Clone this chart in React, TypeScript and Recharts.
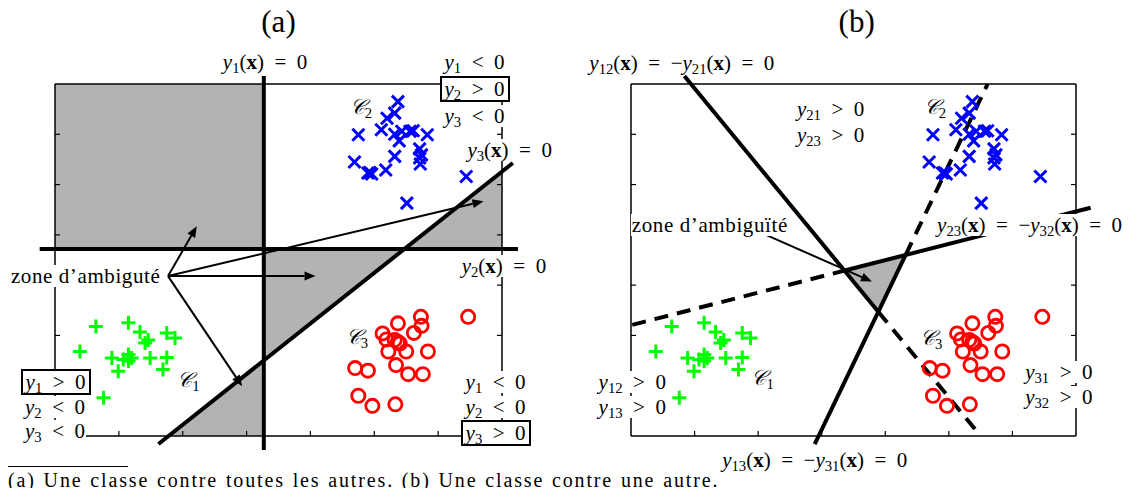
import React from "react";
import {
  ComposedChart, XAxis, YAxis, Scatter, Area, ReferenceArea, ReferenceLine, ReferenceDot,
} from "recharts";

// --- data (axes run 0..7 in both panels) ---
const TICKS = [1, 2, 3, 4, 5, 6];

const BLUE_X = [5.37, 5.32, 5.2, 4.75, 5.11, 5.32, 5.43, 5.39, 5.56, 5.61, 5.83, 5.71, 5.74, 5.71, 5.72, 5.32, 4.69, 4.9, 4.96, 4.93, 5.18, 6.44, 5.51];
const BLUE_Y = [6.65, 6.42, 6.32, 5.99, 6.09, 6.0, 6.06, 5.87, 6.06, 6.07, 5.99, 5.71, 5.59, 5.53, 5.41, 5.56, 5.45, 5.23, 5.21, 5.24, 5.29, 5.16, 4.63];

const GREEN_X = [0.64, 1.15, 1.33, 1.46, 1.41, 1.75, 1.88, 0.39, 0.89, 1.07, 1.15, 1.2, 1.15, 1.49, 1.75, 1.69, 0.99, 0.76];
const GREEN_Y = [2.18, 2.25, 2.07, 1.91, 1.85, 2.05, 1.95, 1.68, 1.55, 1.52, 1.62, 1.55, 1.49, 1.55, 1.56, 1.32, 1.29, 0.76];

const RED_X = [6.47, 5.73, 5.74, 5.37, 5.62, 5.13, 5.19, 5.37, 5.32, 5.22, 5.5, 5.84, 5.34, 4.7, 4.9, 5.53, 5.76, 4.75, 4.97, 5.33, 5.4];
const RED_Y = [2.37, 2.37, 2.19, 2.24, 2.05, 2.04, 1.92, 1.87, 1.91, 1.68, 1.68, 1.68, 1.41, 1.35, 1.3, 1.23, 1.23, 0.8, 0.6, 0.63, 1.84];

// panel (a): one class against all others
const RECT_A = { x1: 0, x2: 3.27, y1: 3.72, y2: 7 };
const AREAS_A = [
  [{ x: 3.27, r: [1.5, 3.72] }, { x: 5.47, r: [3.72, 3.72] }],
  [{ x: 1.78, r: [0, 0] }, { x: 3.27, r: [0, 1.5] }],
  [{ x: 5.47, r: [3.72, 3.72] }, { x: 7, r: [3.72, 5.26] }],
];
const LINES_A = [
  { a: [3.27, -0.28], b: [3.27, 7.16], dash: false },
  { a: [-0.24, 3.72], b: [7.25, 3.72], dash: false },
  { a: [1.62, -0.16], b: [7.17, 5.43], dash: false },
];
const ARROW_FROM_A = [1.77, 3.18];
const ARROW_TO_A = [[2.22, 4.17], [6.71, 4.67], [4.08, 3.18], [2.93, 0.99]];
const LABELS_A = [
  { x: 3.5, y: 8.23, t: "(a)", size: 31, plain: true, nobg: true },
  { x: 3.29, y: 7.44, t: "y1(x) = 0" },
  { x: 6.57, y: 7.44, t: "y1 < 0" },
  { x: 6.57, y: 6.9, t: "y2 > 0", box: true },
  { x: 6.57, y: 6.36, t: "y3 < 0" },
  { x: 7.12, y: 5.69, t: "y3(x) = 0" },
  { x: 7.03, y: 3.38, t: "y2(x) = 0" },
  { x: 4.79, y: 6.54, t: "C2", nobg: true },
  { x: 2.09, y: 1.11, t: "C1", nobg: true },
  { x: 4.73, y: 1.97, t: "C3", nobg: true },
  { x: 0.48, y: 3.18, t: "zone d’ambiguté", plain: true },
  { x: 0.01, y: 1.08, t: "y1 > 0", box: true },
  { x: 0, y: 0.58, t: "y2 < 0" },
  { x: 0, y: 0.09, t: "y3 < 0" },
  { x: 6.9, y: 1.08, t: "y1 < 0" },
  { x: 6.9, y: 0.58, t: "y2 < 0" },
  { x: 6.9, y: 0.06, t: "y3 > 0", box: true },
];

// panel (b): one class against another
const AREAS_B = [
  [{ x: 3.36, r: [3.29, 3.29] }, { x: 3.89, r: [2.47, 3.46] }, { x: 4.32, r: [3.6, 3.6] }],
];
const LINES_B = [
  { a: [0.84, 7.16], b: [3.89, 2.47], dash: false },
  { a: [3.89, 2.47], b: [5.5, 0], dash: true },
  { a: [2.89, -0.16], b: [4.32, 3.6], dash: false },
  { a: [4.32, 3.6], b: [5.61, 7], dash: true },
  { a: [0.02, 2.21], b: [3.36, 3.29], dash: true },
  { a: [3.36, 3.29], b: [7.23, 4.54], dash: false },
];
const ARROW_FROM_B = [2.07, 4.03];
const ARROW_TO_B = [[3.79, 3.07]];
const LABELS_B = [
  { x: 3.55, y: 8.23, t: "(b)", size: 31, plain: true, nobg: true },
  { x: 0.8, y: 7.42, t: "y12(x) = −y21(x) = 0" },
  { x: 3.14, y: 6.51, t: "y21 > 0" },
  { x: 3.14, y: 5.98, t: "y23 > 0" },
  { x: 4.78, y: 6.55, t: "C2", nobg: true },
  { x: 1.24, y: 4.19, t: "zone d’ambiguïté", plain: true },
  { x: 6.27, y: 4.19, t: "y23(x) = −y32(x) = 0" },
  { x: 4.72, y: 1.94, t: "C3", nobg: true },
  { x: 2.07, y: 1.15, t: "C1", nobg: true },
  { x: 0.02, y: 1.08, t: "y12 > 0" },
  { x: 0.02, y: 0.58, t: "y13 > 0" },
  { x: 6.73, y: 1.28, t: "y31 > 0" },
  { x: 6.73, y: 0.78, t: "y32 > 0" },
  { x: 2.89, y: -0.48, t: "y13(x) = −y31(x) = 0" },
];

const FONT = "'Liberation Serif', 'DejaVu Serif', serif";
const GRAY = "#b3b3b3";
const H = 496;
const SP = "\u2002"; // wide space around relations, like TeX

const zip = (xs: number[], ys: number[]) => xs.map((x, i) => ({ x, y: ys[i] }));
const BLUE = zip(BLUE_X, BLUE_Y);
const GREEN = zip(GREEN_X, GREEN_Y);
const RED = zip(RED_X, RED_Y);

function renderMath(s: string) {
  const out: React.ReactNode[] = [];
  const re = /([yC])(\d+)|\(x\)|[^yC(]+|[\s\S]/g;
  let m: RegExpExecArray | null;
  let k = 0;
  while ((m = re.exec(s))) {
    if (m[1]) {
      out.push(
        <span key={k++}>
          {m[1] === "C" ? <span style={{ fontStyle: "italic" }}>𝒞</span> : <i>y</i>}
          <sub style={{ fontSize: "0.7em", verticalAlign: "-0.3em", lineHeight: 0 }}>{m[2]}</sub>
        </span>
      );
    } else if (m[0] === "(x)") {
      out.push(<span key={k++}>(<b>x</b>)</span>);
    } else {
      out.push(<span key={k++} style={{ whiteSpace: "pre" }}>{m[0].replace(/ /g, SP)}</span>);
    }
  }
  return out;
}

function Label({ cx, cy, item }: any) {
  const w = 400, h = 50;
  return (
    <foreignObject x={cx - w / 2} y={cy - h / 2} width={w} height={h}>
      <div style={{ width: w, height: h, display: "flex", alignItems: "center", justifyContent: "center" }}>
        <span
          style={{
            fontFamily: FONT,
            fontSize: item.size || 21,
            lineHeight: 1.05,
            color: "#000",
            whiteSpace: "pre",
            letterSpacing: item.plain && !item.size ? 0.6 : 0,
            background: item.nobg ? "transparent" : "#fff",
            border: item.box ? "2px solid #000" : "none",
            padding: item.box ? "0 3px" : "0 1px",
          }}
        >
          {item.plain ? item.t : renderMath(item.t)}
        </span>
      </div>
    </foreignObject>
  );
}

const XMark = (p: any) => (
  <path d={`M${p.cx - 6},${p.cy - 6}L${p.cx + 6},${p.cy + 6}M${p.cx - 6},${p.cy + 6}L${p.cx + 6},${p.cy - 6}`} stroke="#0000ff" strokeWidth={3} />
);
const PlusMark = (p: any) => (
  <path d={`M${p.cx - 7},${p.cy}H${p.cx + 7}M${p.cx},${p.cy - 7}V${p.cy + 7}`} stroke="#00ff00" strokeWidth={3} />
);
const RingMark = (p: any) => (
  <circle cx={p.cx} cy={p.cy} r={6.6} fill="none" stroke="#ff0000" strokeWidth={2.8} />
);

const ArrowShape = (p: any) => {
  const { x1, y1, x2, y2 } = p;
  const a = Math.atan2(y2 - y1, x2 - x1);
  const L = 11, W = 4.5;
  const bx = x2 - L * Math.cos(a), by = y2 - L * Math.sin(a);
  const pts = `${x2},${y2} ${bx + W * Math.sin(a)},${by - W * Math.cos(a)} ${bx - W * Math.sin(a)},${by + W * Math.cos(a)}`;
  return (
    <g>
      <line x1={x1} y1={y1} x2={bx} y2={by} stroke="#000" strokeWidth={2} />
      <polygon points={pts} fill="#000" />
    </g>
  );
};

const axisCommon = {
  type: "number" as const,
  domain: [0, 7],
  allowDataOverflow: true,
  ticks: TICKS,
  mirror: true,
  tickSize: 5,
  tickFormatter: () => "",
  axisLine: { stroke: "#000", strokeWidth: 1.5 },
  tickLine: { stroke: "#000", strokeWidth: 1.2 },
};

function Panel({ width, margin, rect, areas, lines, from, to, labels }: any) {
  return (
    <ComposedChart width={width} height={H} margin={margin}>
      <XAxis {...axisCommon} dataKey="x" height={1} />
      <XAxis {...axisCommon} xAxisId="top" orientation="top" height={1} />
      <YAxis {...axisCommon} dataKey="y" width={1} />
      <YAxis {...axisCommon} yAxisId="right" orientation="right" width={1} />
      {rect && (
        <ReferenceArea x1={rect.x1} x2={rect.x2} y1={rect.y1} y2={rect.y2} fill={GRAY} fillOpacity={1} stroke="none" ifOverflow="visible" />
      )}
      {areas.map((d: any, i: number) => (
        <Area key={"ar" + i} data={d} dataKey="r" type="linear" fill={GRAY} fillOpacity={1} stroke="none" isAnimationActive={false} />
      ))}
      {lines.map((l: any, i: number) => (
        <ReferenceLine
          key={"ln" + i}
          segment={[{ x: l.a[0], y: l.a[1] }, { x: l.b[0], y: l.b[1] }]}
          ifOverflow="visible"
          stroke="#000"
          strokeWidth={4}
          strokeDasharray={l.dash ? "14 9" : undefined}
        />
      ))}
      {to.map((t: number[], i: number) => (
        <ReferenceLine
          key={"arw" + i}
          segment={[{ x: from[0], y: from[1] }, { x: t[0], y: t[1] }]}
          ifOverflow="visible"
          shape={ArrowShape}
        />
      ))}
      <Scatter data={BLUE} shape={XMark} isAnimationActive={false} />
      <Scatter data={GREEN} shape={PlusMark} isAnimationActive={false} />
      <Scatter data={RED} shape={RingMark} isAnimationActive={false} />
      {labels.map((l: any, i: number) => (
        <ReferenceDot key={"lb" + i} x={l.x} y={l.y} r={0} ifOverflow="visible" shape={(p: any) => <Label cx={p.cx} cy={p.cy} item={l} />} />
      ))}
    </ComposedChart>
  );
}

export default function App() {
  return (
    <div style={{ position: "relative", width: 1133, height: 496, margin: -8, background: "#fff", overflow: "hidden" }}>
      <div style={{ position: "absolute", left: 8, top: 466, width: 120, borderTop: "1px solid #000" }} />
      <div style={{ position: "absolute", left: 8, top: 470, fontFamily: FONT, fontSize: 20, lineHeight: "20px", letterSpacing: 1.85, wordSpacing: 1, whiteSpace: "pre", color: "#000" }}>
        (a) Une classe contre toutes les autres. (b) Une classe contre une autre.
      </div>
      <div style={{ position: "absolute", left: 0, top: 0 }}>
        <Panel
          width={566}
          margin={{ top: 84, right: 64, bottom: 60, left: 55 }}
          rect={RECT_A}
          areas={AREAS_A}
          lines={LINES_A}
          from={ARROW_FROM_A}
          to={ARROW_TO_A}
          labels={LABELS_A}
        />
      </div>
      <div style={{ position: "absolute", left: 566, top: 0 }}>
        <Panel
          width={567}
          margin={{ top: 84, right: 57, bottom: 60, left: 65 }}
          rect={null}
          areas={AREAS_B}
          lines={LINES_B}
          from={ARROW_FROM_B}
          to={ARROW_TO_B}
          labels={LABELS_B}
        />
      </div>
    </div>
  );
}
